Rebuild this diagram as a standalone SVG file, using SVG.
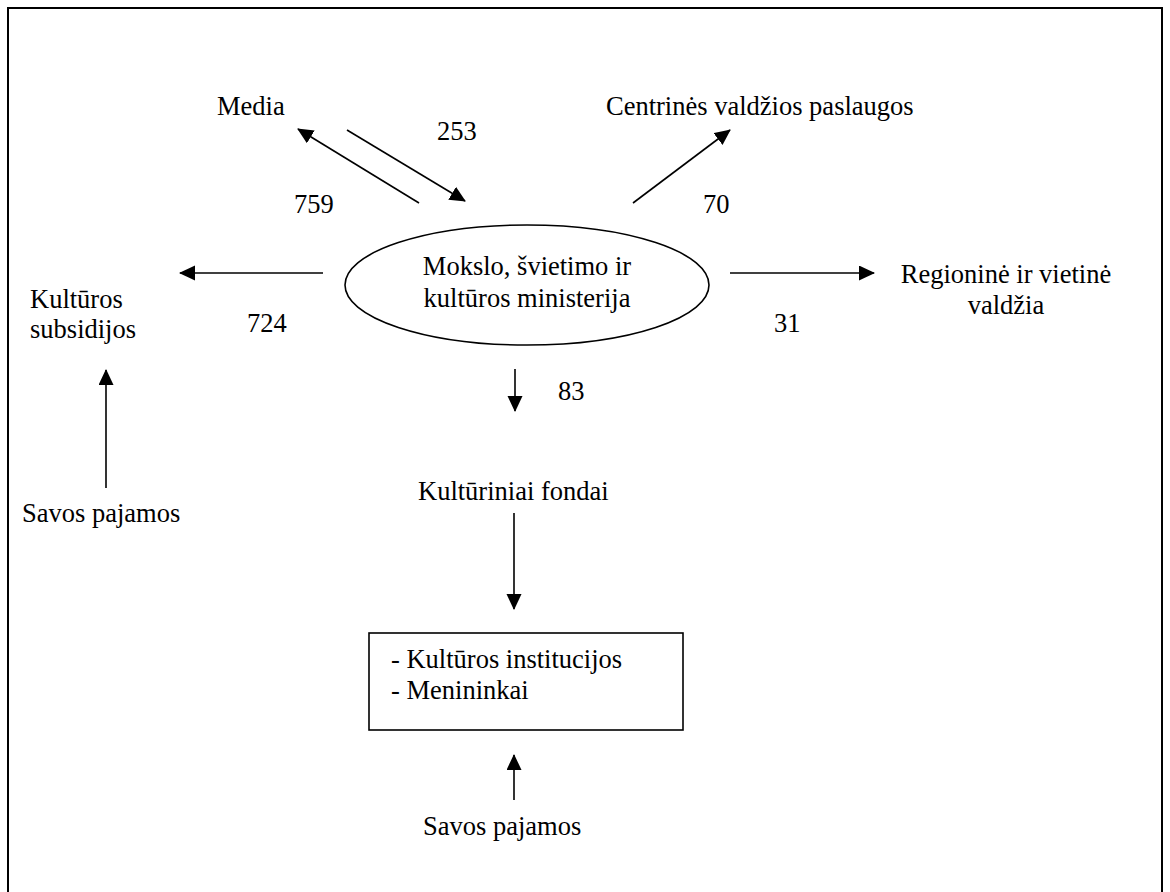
<svg xmlns="http://www.w3.org/2000/svg" width="1170" height="892" viewBox="0 0 1170 892">
<defs>
<style>
text{font-family:"Liberation Serif","Times New Roman",serif;font-size:26.5px;fill:#000}
.c{text-anchor:middle}
.ln{stroke:#000;stroke-width:1.6;fill:none;marker-end:url(#ah)}
</style>
<marker id="ah" markerUnits="userSpaceOnUse" markerWidth="17" markerHeight="17" refX="15" refY="7.5" orient="auto">
<path d="M0,0 L16,7.5 L0,15 z" fill="#000"/>
</marker>
</defs>
<rect width="1170" height="892" fill="#fff"/>
<path d="M8,896 L8,8 L1162,8 L1162,896" fill="none" stroke="#000" stroke-width="2"/>
<g id="connectors">
<line class="ln" x1="419" y1="203" x2="298" y2="129"/>
<line class="ln" x1="347" y1="130" x2="465" y2="201"/>
<line class="ln" x1="633" y1="203" x2="730" y2="130"/>
<line class="ln" x1="323" y1="273" x2="180" y2="273"/>
<line class="ln" x1="730" y1="273" x2="874" y2="273"/>
<line class="ln" x1="515" y1="369" x2="515" y2="411"/>
<line class="ln" x1="514" y1="513" x2="514" y2="609"/>
<line class="ln" x1="514" y1="800" x2="514" y2="755"/>
<line class="ln" x1="106" y1="488" x2="106" y2="370"/>
</g>
<g id="labels">
<text x="437" y="140">253</text>
<text x="294" y="213">759</text>
<text x="703" y="213">70</text>
<text x="247" y="332">724</text>
<text x="774" y="332">31</text>
<text x="558" y="400">83</text>
</g>
<g id="ministerija">
<ellipse cx="527" cy="285" rx="182" ry="60" fill="none" stroke="#000" stroke-width="1.6"/>
<text class="c" x="527" y="275">Mokslo, švietimo ir</text>
<text class="c" x="527" y="307">kultūros ministerija</text>
</g>
<g id="media"><text x="217" y="115">Media</text></g>
<g id="centrines"><text x="606" y="115">Centrinės valdžios paslaugos</text></g>
<g id="subsidijos"><text x="30" y="308">Kultūros</text><text x="30" y="338">subsidijos</text></g>
<g id="regionine"><text class="c" x="1006" y="283">Regioninė ir vietinė</text><text class="c" x="1006" y="314">valdžia</text></g>
<g id="savos1"><text x="22" y="522">Savos pajamos</text></g>
<g id="fondai"><text x="418" y="500">Kultūriniai fondai</text></g>
<g id="institucijos">
<rect x="369" y="633" width="314" height="97" fill="none" stroke="#000" stroke-width="1.6"/>
<text x="391" y="668">- Kultūros institucijos</text>
<text x="391" y="699">- Menininkai</text>
</g>
<g id="savos2"><text x="423" y="835">Savos pajamos</text></g>
</svg>
